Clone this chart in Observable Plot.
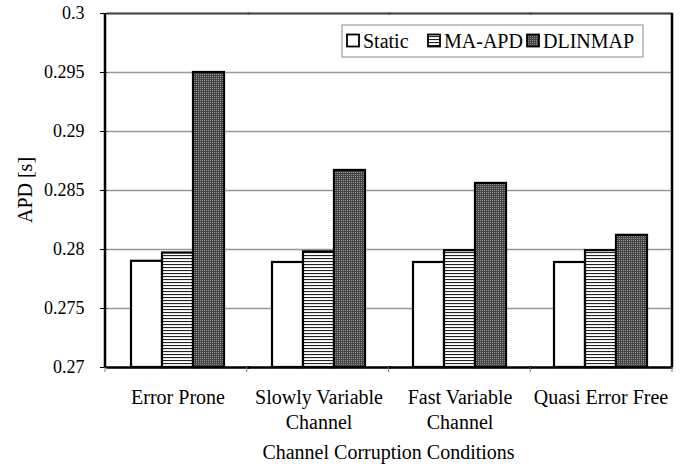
<!DOCTYPE html>
<html>
<head>
<meta charset="utf-8">
<script src="https://cdn.jsdelivr.net/npm/d3@7"></script>
<script src="https://cdn.jsdelivr.net/npm/@observablehq/plot@0.6"></script>
<style>
  html, body { margin: 0; padding: 0; background: #fff; }
  #chart svg { display: block; }
</style>
</head>
<body>
<div id="chart"></div>
<script>
const categories = ["Error Prone", "Slowly Variable Channel", "Fast Variable Channel", "Quasi Error Free"];
const categoryLabels = ["Error Prone", "Slowly Variable\nChannel", "Fast Variable\nChannel", "Quasi Error Free"];
const series = ["Static", "MA-APD", "DLINMAP"];
const staticValues = [0.2790, 0.2789, 0.2789, 0.2789];
const maapdValues = [0.2797, 0.2798, 0.2799, 0.2799];
const dlinmapValues = [0.2950, 0.2867, 0.2856, 0.2812];
const yTicks = [0.27, 0.275, 0.28, 0.285, 0.29, 0.295, 0.3];

(function () {
const table = [];
categories.forEach((c, i) => {
  table.push({category: c, series: "Static", value: staticValues[i]});
  table.push({category: c, series: "MA-APD", value: maapdValues[i]});
  table.push({category: c, series: "DLINMAP", value: dlinmapValues[i]});
});

const W = 685, H = 464, mL = 105, mR = 13, mT = 13, mB = 97;
const font = "'Liberation Serif', 'Times New Roman', serif";

const chart = Plot.plot({
  width: W, height: H,
  marginLeft: mL, marginRight: mR, marginTop: mT, marginBottom: mB,
  style: {fontFamily: font, color: "#000", background: "#fff"},
  fx: {domain: categories, padding: 0, axis: null},
  x: {domain: series, paddingInner: 0, paddingOuter: 0.75, axis: null},
  y: {domain: [0.27, 0.3], axis: null},
  color: {domain: series, range: ["#ffffff", "url(#pStripes)", "url(#pDots)"]},
  marks: [
    Plot.gridY(yTicks, {stroke: "#999", strokeOpacity: 1, strokeWidth: 1.5}),
    Plot.barY(table, {fx: "category", x: "series", y1: 0.27, y2: "value", fill: "series", stroke: "#000", strokeWidth: 2.2}),
    Plot.frame({anchor: "bottom", stroke: "#000", strokeWidth: 2.5}),
    Plot.frame({anchor: "top", stroke: "#444", strokeWidth: 2}),
    Plot.axisY({ticks: yTicks, tickSize: 7, tickPadding: 16, fontSize: 18, tickFormat: d3.format("~g"), label: null}),
    Plot.text(categories, {fx: d => d, text: d => categoryLabels[categories.indexOf(d)], frameAnchor: "bottom", lineAnchor: "top", dy: 19, fontSize: 20, lineHeight: 1.25})
  ]
});

const svg = d3.select(chart);
svg.style("font-family", font);

// patterns
const defs = svg.insert("defs", ":first-child");
const ps = defs.append("pattern").attr("id", "pStripes").attr("patternUnits", "userSpaceOnUse").attr("width", 3).attr("height", 3);
ps.append("rect").attr("width", 3).attr("height", 3).attr("fill", "#fff");
ps.append("rect").attr("width", 3).attr("height", 1.1).attr("fill", "#222");
const pd = defs.append("pattern").attr("id", "pDots").attr("patternUnits", "userSpaceOnUse").attr("width", 2).attr("height", 2);
pd.append("rect").attr("width", 2).attr("height", 2).attr("fill", "#444");
pd.append("rect").attr("width", 1).attr("height", 1).attr("fill", "#969696");

// left/right borders and category boundary ticks
const xLeft = mL, xRight = W - mR, yTop = mT, yBottom = H - mB;
const g = svg.append("g");
g.append("line").attr("x1", xLeft).attr("x2", xLeft).attr("y1", yTop).attr("y2", yBottom).attr("stroke", "#000").attr("stroke-width", 2.5);
g.append("line").attr("x1", xRight).attr("x2", xRight).attr("y1", yTop).attr("y2", yBottom).attr("stroke", "#000").attr("stroke-width", 2.5);
const step = (xRight - xLeft) / categories.length;
for (let i = 0; i <= categories.length; i++) {
  const x = xLeft + i * step;
  g.append("line").attr("x1", x).attr("x2", x).attr("y1", yBottom).attr("y2", yBottom + 5).attr("stroke", "#777").attr("stroke-width", 1);
}

// axis titles
svg.append("text").attr("x", (xLeft + xRight) / 2).attr("y", 459).attr("text-anchor", "middle")
  .attr("font-size", 20).attr("font-family", font).attr("fill", "#000").text("Channel Corruption Conditions");
svg.append("text").attr("transform", "translate(32," + ((yTop + yBottom) / 2) + ") rotate(-90)").attr("text-anchor", "middle")
  .attr("font-size", 20).attr("font-family", font).attr("fill", "#000").text("APD [s]");

// legend
const lg = svg.append("g").attr("font-family", font).attr("font-size", 20).attr("text-anchor", "start");
lg.append("rect").attr("x", 342).attr("y", 25).attr("width", 301).attr("height", 32).attr("fill", "#fff").attr("stroke", "#888").attr("stroke-width", 1);
const legendFills = ["#fff", "url(#pStripes)", "url(#pDots)"];
const legendX = [347, 428, 527];
series.forEach((s, i) => {
  lg.append("rect").attr("x", legendX[i]).attr("y", 34.5).attr("width", 12).attr("height", 12)
    .attr("fill", legendFills[i]).attr("stroke", "#000").attr("stroke-width", 1.8);
  lg.append("text").attr("x", legendX[i] + 16).attr("y", 47.5).attr("fill", "#000").text(s);
});

document.getElementById("chart").appendChild(chart);
})();
</script>
</body>
</html>
